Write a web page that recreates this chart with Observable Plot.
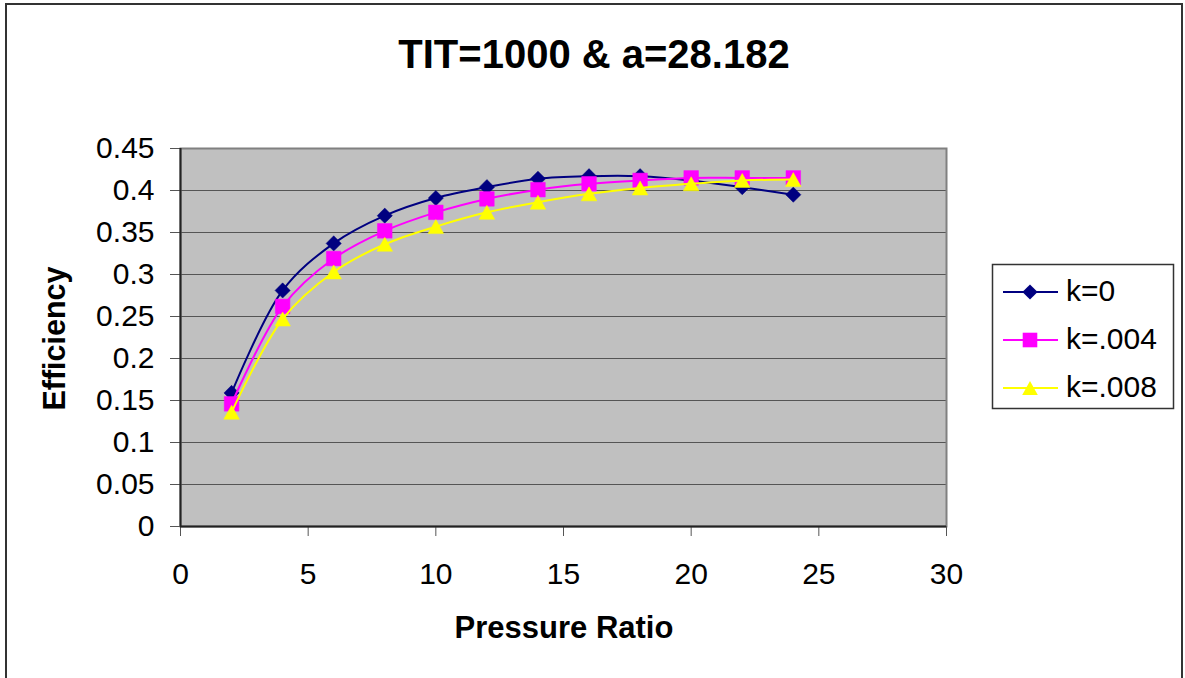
<!DOCTYPE html>
<html>
<head>
<meta charset="utf-8">
<script src="https://cdn.jsdelivr.net/npm/d3@7"></script>
<script src="https://cdn.jsdelivr.net/npm/@observablehq/plot@0.6"></script>
<style>
  html, body { margin: 0; padding: 0; background: #fff; }
  #wrap { position: relative; width: 1185px; height: 678px; overflow: hidden; font-family: "Liberation Sans", Arial, sans-serif; }
  #border { position: absolute; left: 5px; top: 3px; width: 1178px; height: 720px; border: 2px solid #333; box-sizing: border-box; }
  #chart, #overlay { position: absolute; left: 0; top: 0; }
  #overlay { pointer-events: none; }
</style>
</head>
<body>
<div id="wrap">
  <div id="border"></div>
  <div id="chart"></div>
  <svg id="overlay" width="1185" height="678"></svg>
</div>
<script>
// ---- data ----
const pressureRatio = [2, 4, 6, 8, 10, 12, 14, 16, 18, 20, 22, 24];
const effK0   = [0.159, 0.281, 0.337, 0.370, 0.391, 0.404, 0.414, 0.417, 0.417, 0.412, 0.404, 0.395];
const effK004 = [0.146, 0.262, 0.319, 0.352, 0.374, 0.390, 0.401, 0.408, 0.412, 0.415, 0.415, 0.415];
const effK008 = [0.136, 0.247, 0.303, 0.336, 0.357, 0.374, 0.386, 0.396, 0.403, 0.408, 0.412, 0.413];
const seriesNames = ["k=0", "k=.004", "k=.008"];
const xTicks = [0, 5, 10, 15, 20, 25, 30];
const yTicks = [0, 0.05, 0.1, 0.15, 0.2, 0.25, 0.3, 0.35, 0.4, 0.45];
const yTickLabels = ["0", "0.05", "0.1", "0.15", "0.2", "0.25", "0.3", "0.35", "0.4", "0.45"];
const titleText = "TIT=1000 & a=28.182";
const xLabel = "Pressure Ratio";
const yLabel = "Efficiency";

// ---- symbols ----
const diamondSym = {draw(ctx) { const r = 7.6; ctx.moveTo(0, -r); ctx.lineTo(r, 0); ctx.lineTo(0, r); ctx.lineTo(-r, 0); ctx.closePath(); }};
const squareSym = {draw(ctx) { const h = 7.3; ctx.moveTo(-h, -h); ctx.lineTo(h, -h); ctx.lineTo(h, h); ctx.lineTo(-h, h); ctx.closePath(); }};
const triangleSym = {draw(ctx) { const w = 7.8, h = 7; ctx.moveTo(0, -h); ctx.lineTo(w, h); ctx.lineTo(-w, h); ctx.closePath(); }};

const colors = ["#000080", "#FF00FF", "#FFFF00"];
const symbols = [diamondSym, squareSym, triangleSym];
const valuesBySeries = [effK0, effK004, effK008];

const rows = seriesNames.flatMap((name, s) =>
  pressureRatio.map((x, i) => ({x, y: valuesBySeries[s][i], k: name})));

const seriesMarks = seriesNames.flatMap((name, s) => {
  const d = rows.filter(r => r.k === name);
  return [
    Plot.line(d, {x: "x", y: "y", stroke: colors[s], strokeWidth: 2, curve: "catmull-rom"}),
    Plot.dot(d, {x: "x", y: "y", fill: colors[s], stroke: colors[s], strokeWidth: 0.5, symbol: symbols[s], r: 6})
  ];
});

const chart = Plot.plot({
  width: 1185,
  height: 678,
  marginLeft: 180,
  marginRight: 239,
  marginTop: 148,
  marginBottom: 152,
  style: {fontFamily: "'Liberation Sans', Arial, sans-serif", background: "transparent", overflow: "visible"},
  x: {domain: [0, 30]},
  y: {domain: [0, 0.45]},
  marks: [
    Plot.frame({fill: "#C0C0C0", stroke: null}),
    Plot.gridY(yTicks.slice(1, -1), {stroke: "#555", strokeOpacity: 1, strokeWidth: 1}),
    Plot.frame({stroke: "#808080", strokeWidth: 2}),
    Plot.axisY(yTicks, {tickSize: 10, tickPadding: 16, fontSize: 30, stroke: "#555", fill: "#000",
      tickFormat: (d) => yTickLabels[yTicks.indexOf(d)], label: null}),
    Plot.axisX(xTicks, {tickSize: 10, tickPadding: 26, fontSize: 30, stroke: "#555", fill: "#000", label: null}),
    Plot.ruleX([0], {stroke: "#222", strokeWidth: 2}),
    Plot.ruleY([0], {stroke: "#222", strokeWidth: 2}),
    ...seriesMarks
  ]
});
document.getElementById("chart").appendChild(chart);

// ---- title, axis titles, legend ----
const ov = d3.select("#overlay").style("font-family", "'Liberation Sans', Arial, sans-serif");
ov.append("text").attr("x", 594).attr("y", 68).attr("text-anchor", "middle")
  .attr("font-size", 40).attr("font-weight", "bold").text(titleText);
ov.append("text").attr("x", 564).attr("y", 638).attr("text-anchor", "middle")
  .attr("font-size", 31).attr("font-weight", "bold").text(xLabel);
ov.append("text").attr("transform", "translate(65,338.5) rotate(-90)").attr("text-anchor", "middle")
  .attr("font-size", 30.5).attr("font-weight", "bold").text(yLabel);

const lg = ov.append("g");
lg.append("rect").attr("x", 992.5).attr("y", 264.5).attr("width", 181).attr("height", 144)
  .attr("fill", "#fff").attr("stroke", "#333").attr("stroke-width", 1.5);
const legendY = [292, 340, 388];
seriesNames.forEach((name, s) => {
  const y = legendY[s];
  lg.append("line").attr("x1", 1003).attr("x2", 1058).attr("y1", y).attr("y2", y)
    .attr("stroke", colors[s]).attr("stroke-width", 2);
  lg.append("path").attr("transform", `translate(1030,${y})`)
    .attr("d", d3.symbol(symbols[s], 1)()).attr("fill", colors[s]);
  lg.append("text").attr("x", 1066).attr("y", y + 9).attr("font-size", 30).text(name);
});
</script>
</body>
</html>
